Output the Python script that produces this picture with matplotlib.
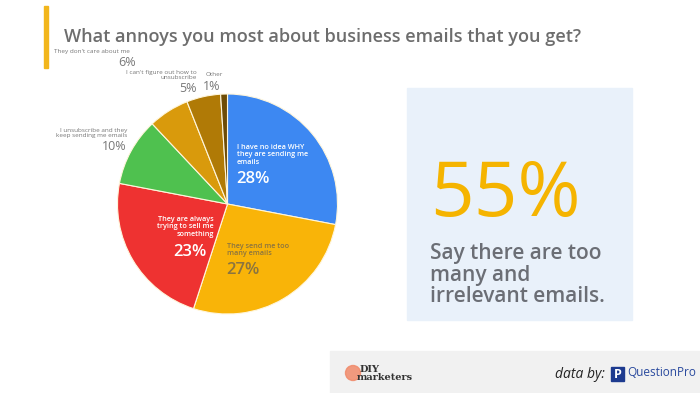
import numpy as np
import matplotlib.pyplot as plt
from matplotlib.patches import Rectangle, Circle

plt.rcParams["font.family"] = ["Open Sans", "DejaVu Sans"]

# data
labels = ["I have no idea WHY\nthey are sending me\nemails",
          "They send me too\nmany emails",
          "They are always\ntrying to sell me\nsomething",
          "I unsubscribe and they\nkeep sending me emails",
          "They don't care about me",
          "I can't figure out how to\nunsubscribe",
          "Other"]
values = [28, 27, 23, 10, 6, 5, 1]
colors = ["#3d88f2", "#f9b408", "#ee3231", "#4fc14f", "#d99a0c", "#b07a06", "#6e4c06"]

W, H = 700, 393
fig = plt.figure(figsize=(W / 100, H / 100), dpi=100)
fig.patch.set_facecolor("white")

# pie first so the overlay text sits on top
cx, cy, r = 227.5, 204, 110
pax = fig.add_axes([(cx - r) / W, (H - cy - r) / H, 2 * r / W, 2 * r / H])
pax.pie(values, colors=colors, startangle=90, counterclock=False,
        wedgeprops=dict(edgecolor="#fff6dc", linewidth=0.8))
pax.set_xlim(-1, 1)
pax.set_ylim(-1, 1)
pax.set_aspect("equal")

# overlay axes in pixel coords
bg = fig.add_axes([0, 0, 1, 1])
bg.set_xlim(0, W)
bg.set_ylim(H, 0)
bg.axis("off")

# yellow bar + title
bg.add_patch(Rectangle((44, 6), 4, 62, color="#f2b61c"))
bg.text(64, 37, "What annoys you most about business emails that you get?",
        fontsize=13.1, color="#6d6d6d", fontweight="semibold", va="center", ha="left")

small = dict(fontsize=5.2, fontweight="semibold")
big = dict(fontsize=12, fontweight="semibold")

# inside labels
bg.text(237, 155, labels[0], color="white", ha="left", va="center", linespacing=1.1, **small)
bg.text(236, 179, f"{values[0]}%", color="white", ha="left", va="center", **big)
bg.text(227, 250, labels[1], color="#8a7440", ha="left", va="center", linespacing=1.1, **small)
bg.text(226, 270, f"{values[1]}%", color="#8a7440", ha="left", va="center", **big)
bg.text(214, 227, labels[2], color="white", ha="right", va="center", linespacing=1.1,
        multialignment="right", **small)
bg.text(206, 252, f"{values[2]}%", color="white", ha="right", va="center", **big)

# outside labels
gray = "#777777"
bg.text(127, 133, labels[3], color=gray, ha="right", va="center", linespacing=1.0,
        multialignment="right", fontsize=4.6)
bg.text(127, 146, f"{values[3]}%", color=gray, ha="right", va="center", fontsize=9)
bg.text(92, 51, labels[4], color=gray, ha="center", va="center", fontsize=4.6)
bg.text(127, 62, f"{values[4]}%", color=gray, ha="center", va="center", fontsize=9)
bg.text(197, 75, labels[5], color=gray, ha="right", va="center", linespacing=1.0,
        multialignment="right", fontsize=4.6)
bg.text(197, 89, f"{values[5]}%", color=gray, ha="right", va="center", fontsize=9)
bg.text(214, 75, labels[6], color=gray, ha="center", va="center", fontsize=4.6)
bg.text(212, 86, f"{values[6]}%", color=gray, ha="center", va="center", fontsize=9)

# callout box
bg.add_patch(Rectangle((407, 88), 225, 232, color="#e9f1fa"))
bg.text(430, 196, "55%", color="#f5b400", fontsize=55, ha="left", va="center")
bg.text(430, 275, "Say there are too\nmany and\nirrelevant emails.", color="#6b6e75",
        fontsize=15, fontweight="semibold", ha="left", va="center", linespacing=1.05)

# footer
bg.add_patch(Rectangle((330, 351), 370, 42, color="#f1f1f1"))
bg.add_patch(Circle((353, 373), 7.5, color="#f08a6a", alpha=0.85))
bg.text(360, 369, "DIY", fontsize=7, fontweight="bold", family="DejaVu Serif",
        color="#333333", va="center", ha="left")
bg.text(357, 378, "marketers", fontsize=7, fontweight="bold", family="DejaVu Serif",
        color="#333333", va="center", ha="left")
bg.text(605, 375, "data by:", fontsize=10, style="italic", color="#222222",
        ha="right", va="center")
bg.add_patch(Rectangle((611, 367), 13, 14, color="#1d3a8f"))
bg.text(617.5, 374, "P", fontsize=9, fontweight="bold", color="white", ha="center", va="center")
bg.text(627, 373, "QuestionPro", fontsize=8.5, color="#2a4a9e", ha="left", va="center")

fig.savefig("out.png", dpi=100)
